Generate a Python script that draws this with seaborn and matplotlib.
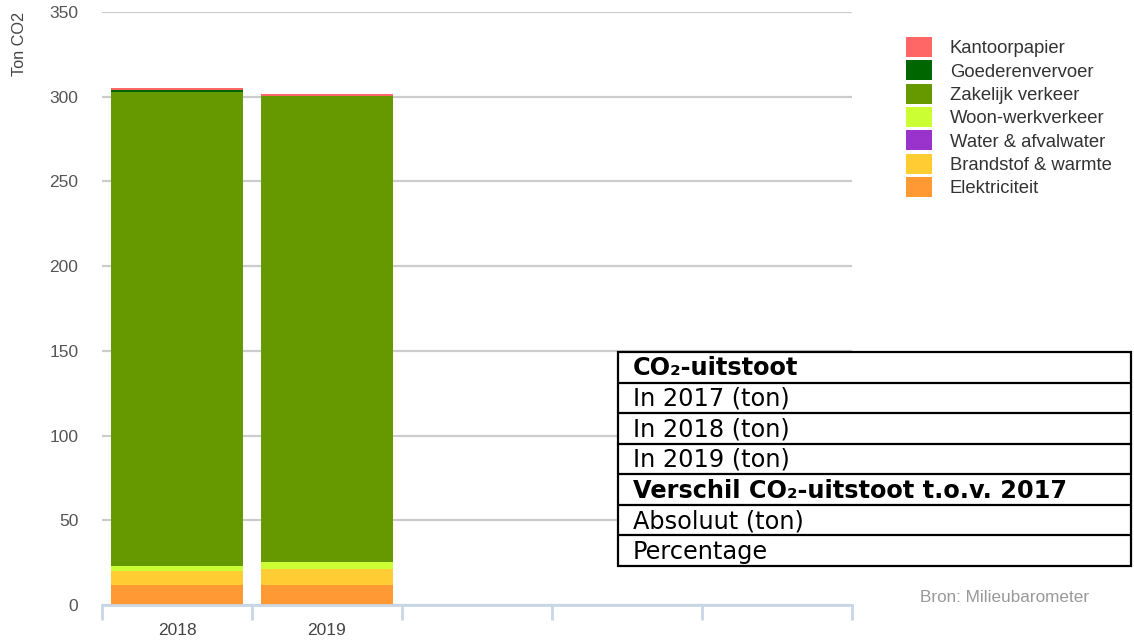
import numpy as np
import pandas as pd
import matplotlib
matplotlib.use("Agg")
import matplotlib.pyplot as plt
from matplotlib.patches import Patch, Rectangle
from matplotlib.lines import Line2D
import seaborn as sns

years = ["2018", "2019"]
# stacking order bottom -> top
series = ["Elektriciteit", "Brandstof & warmte", "Water & afvalwater",
          "Woon-werkverkeer", "Zakelijk verkeer", "Goederenvervoer", "Kantoorpapier"]
elektriciteit = [11.8, 11.8]
brandstof = [8.4, 9.6]
water = [0.1, 0.1]
woonwerk = [3.0, 3.7]
zakelijk = [279.7, 275.3]
goederen = [1.0, 0.0]
kantoorpapier = [1.0, 1.2]
colors = ["#ff9933", "#ffcc33", "#9933cc", "#ccff33", "#669900", "#006600", "#ff6666"]

yticks = [0, 50, 100, 150, 200, 250, 300, 350]
table_rows = ["CO₂-uitstoot", "In 2017 (ton)", "In 2018 (ton)", "In 2019 (ton)",
              "Verschil CO₂-uitstoot t.o.v. 2017", "Absoluut (ton)", "Percentage"]
table_bold = [True, False, False, False, True, False, False]

values = [elektriciteit, brandstof, water, woonwerk, zakelijk, goederen, kantoorpapier]

sns.set_theme(style="white")
plt.rcParams["font.family"] = ["Liberation Sans", "DejaVu Sans"]

W, H = 1134, 641
fig = plt.figure(figsize=(W / 100, H / 100), dpi=100)
ax = fig.add_axes([102 / W, 1 - 605 / H, (852 - 102) / W, (605 - 12) / H])

cum = np.cumsum(np.array(values), axis=0)
# draw from top of stack down so smaller cumulative bars overlay
for i in range(len(series) - 1, -1, -1):
    df = pd.DataFrame({"year": years, "value": cum[i]})
    sns.barplot(data=df, x="year", y="value", order=years, color=colors[i],
                saturation=1, width=0.88, ax=ax, linewidth=0, edgecolor="none",
                zorder=2)

ax.set_xlim(-0.5, 4.5)
ax.set_ylim(0, 350)
ax.set_yticks(yticks)
ax.set_yticklabels([str(t) for t in yticks])
ax.yaxis.grid(True, color="#cccccc", linewidth=1.6, zorder=0)
ax.xaxis.grid(False)
ax.set_axisbelow(True)
for s in ["left", "right", "top"]:
    ax.spines[s].set_visible(False)
ax.spines["bottom"].set_color("#c8d6e5")
ax.spines["bottom"].set_linewidth(2)
ax.spines["bottom"].set_zorder(3)

ax.set_xticks([0, 1])
ax.set_xticklabels(years)
ax.set_xticks(np.arange(-0.5, 5.0, 1.0), minor=True)
ax.tick_params(axis="x", which="major", bottom=False, length=0, pad=13,
               labelsize=12.5, labelcolor="#444444")
ax.tick_params(axis="x", which="minor", bottom=True, length=11, width=2,
               color="#c8d6e5", direction="out")
ax.tick_params(axis="y", length=0, pad=17, labelsize=12.5, labelcolor="#555555")
ax.set_xlabel("")
ax.set_ylabel("")

fig.text(19 / W, 1 - 12 / H, "Ton CO2", rotation=90, ha="center", va="top",
         fontsize=11.7, color="#444444")

# legend (top of stack first)
handles = [Patch(facecolor=colors[i], edgecolor="none", label=series[i])
           for i in range(len(series) - 1, -1, -1)]
leg = fig.legend(handles=handles, loc="upper left", bbox_to_anchor=(906 / W, 1 - 37 / H),
                 frameon=False, fontsize=13.3, handlelength=1.4, handleheight=1.29,
                 labelspacing=0.17, handletextpad=0.97, borderaxespad=0, borderpad=0)
for t in leg.get_texts():
    t.set_color("#333333")

fig.text(920 / W, 1 - 598 / H, "Bron: Milieubarometer", ha="left", va="center",
         fontsize=12.3, color="#999999")

# info table
x0, x1 = 618, 1131
y0, y1 = 352, 566
rh = (y1 - y0) / len(table_rows)
tf = fig.transFigure
fig.patches.append(Rectangle((x0 / W, 1 - y1 / H), (x1 - x0) / W, (y1 - y0) / H,
                             transform=tf, facecolor="white", edgecolor="black",
                             linewidth=1.6, zorder=5))
for k, (label, bold) in enumerate(zip(table_rows, table_bold)):
    ytop = y0 + k * rh
    if k > 0:
        fig.lines.append(Line2D([x0 / W, x1 / W], [1 - ytop / H, 1 - ytop / H],
                                transform=tf, color="black", linewidth=1.6, zorder=6))
    fig.text(633 / W, 1 - (ytop + rh / 2 + 1) / H, label, ha="left", va="center",
             fontsize=17.3, fontweight="bold" if bold else "normal",
             family=["DejaVu Sans"], color="black", zorder=7)

fig.savefig("out.png", dpi=100)
